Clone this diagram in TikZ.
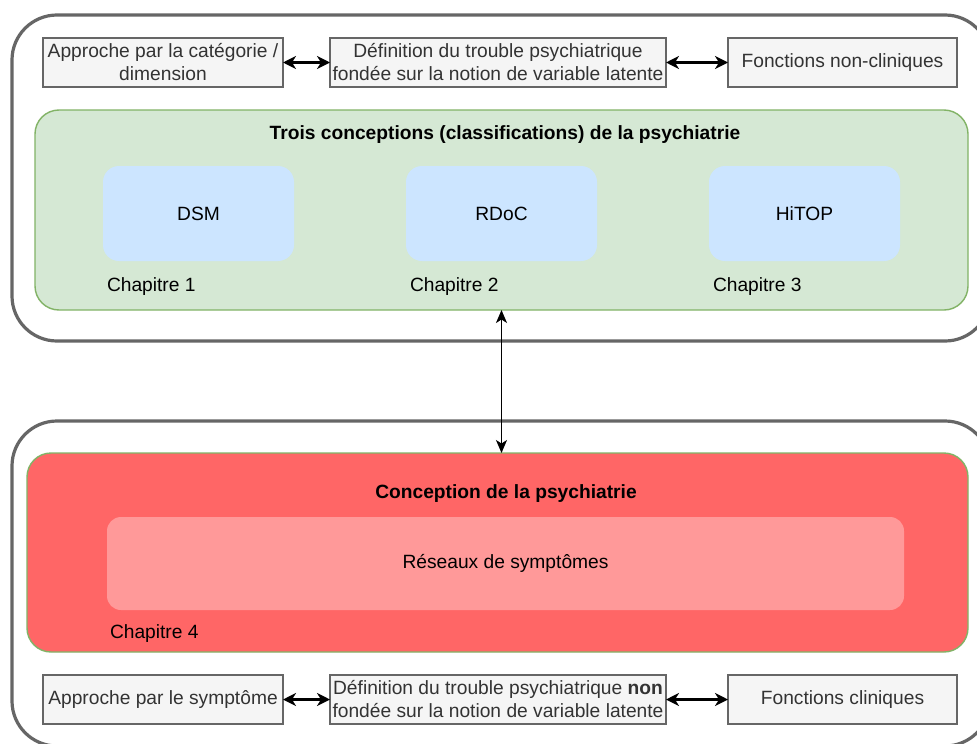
\documentclass[tikz,border=0pt]{standalone}
\usepackage{fontspec}
\setmainfont{Liberation Sans}
\usetikzlibrary{arrows.meta}
\definecolor{outergray}{HTML}{666666}
\definecolor{greenfill}{HTML}{D5E8D4}
\definecolor{greenline}{HTML}{82B366}
\definecolor{bluefill}{HTML}{CCE5FF}
\definecolor{redfill}{HTML}{FF6666}
\definecolor{pinkfill}{HTML}{FF9999}
\definecolor{greyfill}{HTML}{F5F5F5}
\definecolor{darktext}{HTML}{333333}
\tikzset{
  basefont/.style={font=\fontsize{19.2}{23}\selectfont},
  outerbox/.style={rectangle, draw=outergray, line width=3.2pt, rounded corners=45pt},
  greenbox/.style={rectangle, draw=greenline, fill=greenfill, line width=1.4pt, rounded corners=24pt},
  bluebox/.style={rectangle, fill=bluefill, rounded corners=16pt, minimum width=191pt, minimum height=95pt},
  redbox/.style={rectangle, draw=greenline, fill=redfill, line width=1.4pt, rounded corners=24pt},
  pinkbox/.style={rectangle, fill=pinkfill, rounded corners=14pt},
  greybox/.style={rectangle, draw=outergray, fill=greyfill, line width=1.1pt, text=darktext, align=center, minimum height=49pt},
  chap/.style={anchor=west},
  biarrow/.style={{Stealth[length=13pt,width=13pt,inset=4pt]}-{Stealth[length=13pt,width=13pt,inset=4pt]}, line width=2.2pt, black},
  vbiarrow/.style={{Stealth[length=13pt,width=11pt,inset=3.5pt]}-{Stealth[length=13pt,width=11pt,inset=3.5pt]}, line width=1.4pt, black}
}
\begin{document}
\begin{tikzpicture}[x=1pt,y=-1pt, every node/.style={basefont, inner sep=0pt, outer sep=0pt}]
\useasboundingbox (0,0) rectangle (977,744);
\fill[white] (0,0) rectangle (977,744);

% outer boxes
\node[outerbox, minimum width=978pt, minimum height=326pt] (outerTop) at (501,178) {};
\node[outerbox, minimum width=978pt, minimum height=325pt] (outerBot) at (501,583.5) {};

% green container
\node[greenbox, minimum width=933pt, minimum height=200pt] (green) at (501.5,210) {};
\node[font=\fontsize{19.2}{23}\selectfont\bfseries] (title1) at (505,134.5) {Trois conceptions (classifications) de la psychiatrie};
\node[bluebox] (dsm) at (198.5,213.5) {DSM};
\node[bluebox] (rdoc) at (501.5,213.5) {RDoC};
\node[bluebox] (hitop) at (804.5,213.5) {HiTOP};
\node[chap] (ch1) at (107,287) {Chapitre 1};
\node[chap] (ch2) at (410,287) {Chapitre 2};
\node[chap] (ch3) at (713,287) {Chapitre 3};

% red container
\node[redbox, minimum width=941pt, minimum height=199pt] (red) at (497.5,552.5) {};
\node[font=\fontsize{19.2}{23}\selectfont\bfseries] (title2) at (506,493.5) {Conception de la psychiatrie};
\node[pinkbox, minimum width=797pt, minimum height=93pt] (reseaux) at (505.5,563.5) {Réseaux de symptômes};
\node[chap] (ch4) at (110,634) {Chapitre 4};

% top row
\node[greybox, minimum width=240pt] (a1) at (163,62.5) {Approche par la catégorie /\\dimension};
\node[greybox, minimum width=336pt] (a2) at (498,62.5) {Définition du trouble psychiatrique\\fondée sur la notion de variable latente};
\node[greybox, minimum width=229pt] (a3) at (842.5,62.5) {Fonctions non-cliniques};

% bottom row
\node[greybox, minimum width=240pt] (b1) at (163,699.5) {Approche par le symptôme};
\node[greybox, minimum width=336pt] (b2) at (498,699.5) {Définition du trouble psychiatrique \textbf{non}\\fondée sur la notion de variable latente};
\node[greybox, minimum width=229pt] (b3) at (842.5,699.5) {Fonctions cliniques};

% connectors
\draw[biarrow] (a1) -- (a2);
\draw[biarrow] (a2) -- (a3);
\draw[biarrow] (b1) -- (b2);
\draw[biarrow] (b2) -- (b3);
\draw[vbiarrow] (green.south) -- (green.south |- red.north);
\end{tikzpicture}
\end{document}
